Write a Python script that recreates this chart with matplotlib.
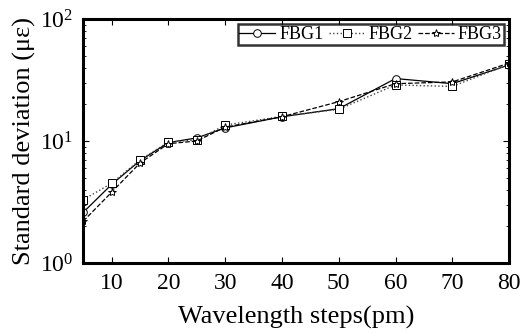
import matplotlib
matplotlib.use("Agg")
import matplotlib.pyplot as plt
from matplotlib.ticker import LogLocator, NullFormatter

plt.rcParams['font.family'] = ['Liberation Serif', 'DejaVu Serif']
plt.rcParams['mathtext.fontset'] = 'custom'
plt.rcParams['mathtext.rm'] = 'Liberation Serif'
plt.rcParams['mathtext.it'] = 'Liberation Serif:italic'

steps = [5, 10, 15, 20, 25, 30, 40, 50, 60, 70, 80]
fbg1 = [2.6, 4.4, 6.9, 9.7, 10.6, 12.8, 15.8, 18.4, 32.5, 29.5, 42.0]
fbg2 = [3.3, 4.5, 7.0, 9.8, 10.2, 13.5, 15.9, 18.2, 28.8, 28.0, 42.5]
fbg3 = [2.2, 3.8, 6.6, 9.5, 10.0, 13.0, 15.8, 21.0, 29.5, 30.5, 43.5]
xticks = [10, 20, 30, 40, 50, 60, 70, 80]

fig = plt.figure(figsize=(5.2, 3.34), dpi=100)
ax = fig.add_axes([0.16, 0.2126, 0.819, 0.7305])

ax.plot(steps, fbg1, '-', color='black', lw=0.9, marker='o', ms=5.5, mfc='white', mec='black', mew=0.7, label='FBG1')
ax.plot(steps, fbg2, ':', color='#444444', lw=1.0, marker='s', ms=5.5, mfc='white', mec='black', mew=0.7, label='FBG2')
ax.plot(steps, fbg3, '--', color='black', lw=0.9, marker='*', ms=6, mfc='white', mec='black', mew=0.7, label='FBG3')

ax.set_yscale('log')
ax.set_ylim(1, 100)
ax.set_xlim(5, 80)
ax.set_xticks(xticks)
ax.yaxis.set_minor_locator(LogLocator(base=10, subs=range(2, 10)))
ax.yaxis.set_minor_formatter(NullFormatter())

ax.tick_params(axis='both', which='both', direction='in', top=True, right=True)
ax.tick_params(axis='both', which='major', length=4, width=0.8, labelsize=17, pad=7)
ax.tick_params(axis='y', which='minor', length=2.5, width=0.6)
for s in ax.spines.values():
    s.set_linewidth(2.2)

ax.set_xlabel('Wavelength steps(pm)', fontsize=19, labelpad=9)
ax.set_ylabel('Standard deviation (\u03bc\u03b5)', fontsize=19, labelpad=3)

leg = ax.legend(loc='upper right', ncol=3, fontsize=13, frameon=True, fancybox=False,
                edgecolor='black', handlelength=2.0, handletextpad=0.2, columnspacing=0.3,
                borderpad=0.1, borderaxespad=0.3)
leg.get_frame().set_linewidth(1.8)

fig.savefig('out.png', dpi=100)
